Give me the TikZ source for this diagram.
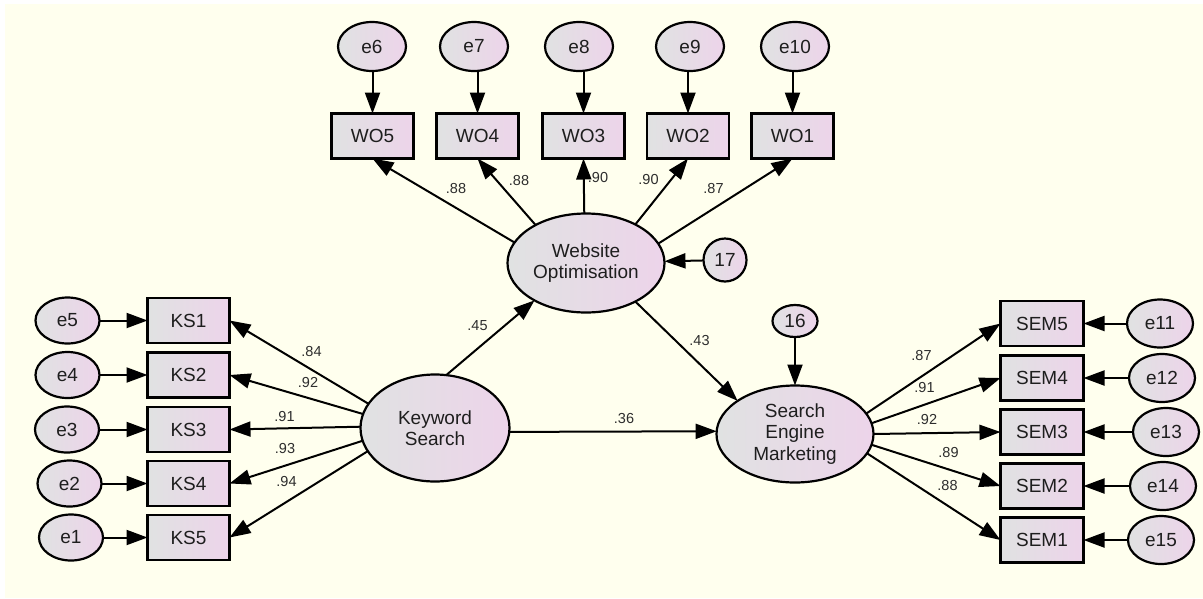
\documentclass[tikz,border=0pt]{standalone}
\usepackage{fontspec}
\setmainfont{Liberation Sans}
\usetikzlibrary{shapes.geometric,arrows.meta}
\definecolor{bg}{RGB}{255,255,238}
\definecolor{fillL}{RGB}{224,226,226}
\definecolor{fillR}{RGB}{237,212,234}
\definecolor{txt}{RGB}{30,30,30}
\definecolor{lbl}{RGB}{45,45,45}
\begin{document}
\begin{tikzpicture}[x=1pt,y=-1pt,
  every node/.style={font=\fontsize{19}{21.5}\selectfont, text=txt, align=center, inner sep=0pt, outer sep=0pt},
  shaded/.style={draw=black, line width=2.2pt, left color=fillL, right color=fillR},
  obs/.style={shaded, rectangle, minimum width=82pt, minimum height=45pt},
  errtop/.style={shaded, ellipse, minimum width=68pt, minimum height=49pt},
  errleft/.style={shaded, ellipse, minimum width=64pt, minimum height=46pt},
  errright/.style={shaded, ellipse, minimum width=66pt, minimum height=48pt},
  lat/.style={shaded, ellipse},
  lab/.style={font=\fontsize{14.5}{16}\selectfont, text=lbl},
  conn/.style={line width=2pt, draw=black, -{Triangle[length=21pt,width=15pt]}}
]
\useasboundingbox (0,0) rectangle (1203,598);
\fill[white] (0,0) rectangle (1203,598);
\fill[bg] (5,4) rectangle (1203,598);

% top error terms and WO indicators
\node[errtop] (e6) at (372,46.5) {e6};
\node[errtop] (e7) at (474,46.5) {e7};
\node[errtop] (e8) at (579,46.5) {e8};
\node[errtop] (e9) at (690,46.5) {e9};
\node[errtop] (e10) at (795,46.5) {e10};
\node[obs] (WO5) at (372.5,136) {WO5};
\node[obs] (WO4) at (477.5,136) {WO4};
\node[obs] (WO3) at (583.5,136) {WO3};
\node[obs] (WO2) at (688,136) {WO2};
\node[obs] (WO1) at (792.5,136) {WO1};

% left KS indicators
\node[obs] (KS1) at (188.5,320.5) {KS1};
\node[obs] (KS2) at (188.5,375) {KS2};
\node[obs] (KS3) at (188.5,429.5) {KS3};
\node[obs] (KS4) at (188.5,483.5) {KS4};
\node[obs] (KS5) at (188.5,537.5) {KS5};
\node[errleft] (e5) at (67.5,320.5) {e5};
\node[errleft] (e4) at (67.5,375) {e4};
\node[errleft] (e3) at (67,429.5) {e3};
\node[errleft] (e2) at (69.5,483.5) {e2};
\node[errleft] (e1) at (71,537.5) {e1};

% right SEM indicators
\node[obs, minimum width=83pt] (SEM5) at (1042,323.5) {SEM5};
\node[obs, minimum width=83pt] (SEM4) at (1042,378) {SEM4};
\node[obs, minimum width=83pt] (SEM3) at (1042,432) {SEM3};
\node[obs, minimum width=83pt] (SEM2) at (1042,486) {SEM2};
\node[obs, minimum width=83pt] (SEM1) at (1042,540) {SEM1};
\node[errright] (e11) at (1160,323.5) {e11};
\node[errright] (e12) at (1162,378) {e12};
\node[errright] (e13) at (1166,432) {e13};
\node[errright] (e14) at (1163,486) {e14};
\node[errright] (e15) at (1161,540) {e15};

% latent variables
\node[lat, minimum width=157pt, minimum height=99pt] (WO) at (586,263) {Website\\Optimisation};
\node[lat, minimum width=149pt, minimum height=107pt] (KS) at (435,428) {Keyword\\Search};
\node[lat, minimum width=157pt, minimum height=97pt] (SEM) at (795,434) {Search\\Engine\\Marketing};
\node[shaded, circle, minimum size=43pt] (c17) at (725,260) {17};
\node[shaded, ellipse, minimum width=45pt, minimum height=32pt] (c16) at (795,321) {16};

% coefficient labels
\node[lab] (lw5) at (456,189) {.88};
\node[lab] (lw4) at (519,180.5) {.88};
\node[lab] (lw3) at (598,178) {.90};
\node[lab] (lw2) at (648.5,180) {.90};
\node[lab] (lw1) at (713.5,188.5) {.87};
\node[lab] (lk1) at (311.5,352) {.84};
\node[lab] (lk2) at (308,383) {.92};
\node[lab] (lk3) at (284.5,416.5) {.91};
\node[lab] (lk4) at (285,449) {.93};
\node[lab] (lk5) at (286.5,482) {.94};
\node[lab] (ls5) at (921.5,356) {.87};
\node[lab] (ls4) at (924.5,387.5) {.91};
\node[lab] (ls3) at (927,420) {.92};
\node[lab] (ls2) at (948.5,452.5) {.89};
\node[lab] (ls1) at (947.5,485.5) {.88};
\node[lab] (lkw) at (477.5,326) {.45};
\node[lab] (lws) at (699.5,340.5) {.43};
\node[lab] (lks) at (624,419) {.36};

% error arrows
\draw[conn] (WO5.north |- e6.south) -- (WO5.north);
\draw[conn] (WO4.north |- e7.south) -- (WO4.north);
\draw[conn] (WO3.north |- e8.south) -- (WO3.north);
\draw[conn] (WO2.north |- e9.south) -- (WO2.north);
\draw[conn] (WO1.north |- e10.south) -- (WO1.north);
\draw[conn] (e5) -- (KS1);
\draw[conn] (e4) -- (KS2);
\draw[conn] (e3) -- (KS3);
\draw[conn] (e2) -- (KS4);
\draw[conn] (e1) -- (KS5);
\draw[conn] (e11) -- (SEM5);
\draw[conn] (e12) -- (SEM4);
\draw[conn] (e13) -- (SEM3);
\draw[conn] (e14) -- (SEM2);
\draw[conn] (e15) -- (SEM1);
\draw[conn] (c17) -- (WO);
\draw[conn] (c16) -- (SEM);

% loadings
\draw[conn] (WO.164.9) -- (WO5.south);
\draw[conn] (WO.143.7) -- (WO4.south);
\draw[conn] (WO.92.3) -- (WO3.south);
\draw[conn] (WO.38) -- (WO2.south);
\draw[conn] (WO.15.8) -- (WO1.south);
\draw[conn] (KS.160.8) -- (KS1.east);
\draw[conn] (KS.169.9) -- (KS2.east);
\draw[conn] (KS.179) -- (KS3.east);
\draw[conn] (KS.190.9) -- (KS4.east);
\draw[conn] (KS.199.2) -- (KS5.east);
\draw[conn] (SEM.16.8) -- (SEM5.west);
\draw[conn] (SEM.8.7) -- (SEM4.west);
\draw[conn] (SEM.0.7) -- (SEM3.west);
\draw[conn] (SEM.-8) -- (SEM2.west);
\draw[conn] (SEM.-15) -- (SEM1.west);

% structural paths
\draw[conn] (KS.78) -- (WO.216);
\draw[conn] (WO.322) -- (SEM.150);
\draw[conn] (KS.-3) -- (SEM.178.5);
\end{tikzpicture}
\end{document}
